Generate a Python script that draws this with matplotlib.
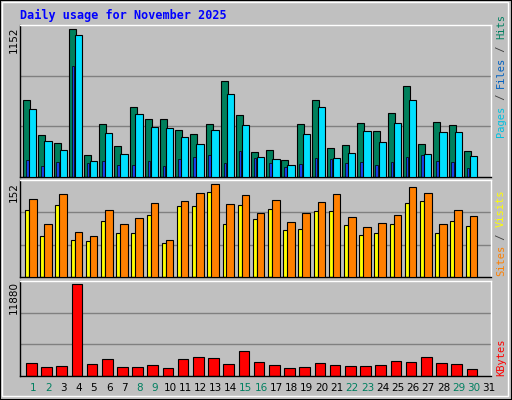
import matplotlib
matplotlib.use("Agg")
import matplotlib.pyplot as plt
import numpy as np

days = list(range(1, 31))
day_labels = [str(d) for d in range(1, 32)]
weekend = {1, 2, 8, 9, 15, 16, 22, 23, 29, 30}
hits = [600,331,269,1152,175,417,245,550,456,456,370,339,417,746,480,198,214,136,417,600,229,253,425,362,503,707,261,433,409,206]
files = [527,284,214,1105,128,347,182,495,394,386,315,261,370,644,409,159,143,96,339,550,151,190,362,276,425,597,182,355,355,167]
pages = [136,89,120,863,112,128,96,96,128,89,143,159,175,112,206,151,112,81,104,151,143,112,120,96,120,159,175,128,120,73]
visits = [127,86,135,74,66,109,86,96,121,61,124,137,152,119,134,104,126,89,104,122,135,97,81,88,101,147,137,86,109,99]
sites = [109,66,117,61,58,92,71,71,101,56,116,116,139,86,117,94,111,76,78,107,107,84,68,71,86,121,124,71,91,83]
kbytes = [1734,1214,1344,11880,1604,2255,1214,1214,1474,1084,2255,2515,2385,1604,3295,1864,1474,1084,1214,1734,1474,1344,1344,1474,1995,1864,2515,1734,1604,954]

W, H = 512, 400
fig = plt.figure(figsize=(W/100, H/100), dpi=100)
fig.patch.set_facecolor('#c0c0c0')
fig.add_artist(plt.Rectangle((0, 0), 1, 1, transform=fig.transFigure, fill=False, ec='black', lw=1.5))
fig.add_artist(plt.Rectangle((2/W, 4/H), 1-6/W, 1-6/H, transform=fig.transFigure, fill=False, ec='white', lw=1))

mono = 'DejaVu Sans Mono'
fig.text(20/W, 1-15/H, 'Daily usage for November 2025', color='#0000ff', fontsize=8.5,
         fontweight='bold', family=mono, va='center')

x = np.array(days)
left, right = 20, 491

def mkax(top, bottom):
    ax = fig.add_axes([left/W, 1-bottom/H, (right-left)/W, (bottom-top)/H])
    ax.set_facecolor('#c0c0c0')
    ax.set_xlim(0.5, 31.5)
    ax.set_xticks([])
    ax.set_yticks([])
    for s in ax.spines.values():
        s.set_color('black'); s.set_linewidth(1)
    ax.spines['right'].set_color('white')
    ax.spines['top'].set_color('white')
    return ax

def grid(ax, ymax):
    for g in (ymax/3, 2*ymax/3):
        ax.axhline(g, color='#808080', lw=1, zorder=0)

ax1 = mkax(25, 177)
ym1 = 1186
ax1.set_ylim(0, ym1); grid(ax1, ym1)
ax1.bar(x-0.06, hits, width=0.46, color='#00805c', ec='black', lw=0.8, zorder=2)
ax1.bar(x+0.34, files, width=0.48, color='#00e0ff', ec='black', lw=0.8, zorder=3)
ax1.bar(x-0.02, pages, width=0.17, color='#1840e8', ec='black', lw=0.5, zorder=2.5)
fig.text(14/W, 1-40/H, '1152', rotation=90, fontsize=7.5, va='center', ha='center')

ax2 = mkax(180, 277)
ym2 = 158
ax2.set_ylim(0, ym2); grid(ax2, ym2)
ax2.bar(x-0.03, sites, width=0.28, color='#ffff00', ec='black', lw=0.8, zorder=2)
ax2.bar(x+0.34, visits, width=0.5, color='#ff8000', ec='black', lw=0.8, zorder=3)
fig.text(14/W, 1-192/H, '152', rotation=90, fontsize=7.5, va='center', ha='center')

ax3 = mkax(281, 376)
ym3 = 12314
ax3.set_ylim(0, ym3); grid(ax3, ym3)
ax3.bar(x+0.24, kbytes, width=0.7, color='#ff0000', ec='black', lw=0.8, zorder=2)
fig.text(14/W, 1-297/H, '11880', rotation=90, fontsize=7.5, va='center', ha='center')

for i, lab in enumerate(day_labels):
    d = i + 1
    px = left + (d - 0.5 + 0.37) * (right-left)/31
    fig.text(px/W, 1-388/H, lab, fontsize=7.5, ha='center', va='center',
             color='#008060' if d in weekend else 'black')

def vlegend(parts, ybottom):
    y = ybottom
    for txt, col in parts:
        fig.text(501/W, 1-y/H, txt, rotation=90, fontsize=7.5, family=mono,
                 color=col, ha='center', va='bottom')
        y -= len(txt) * 6.1
vlegend([('Pages', '#00c0e0'), (' / ', '#404040'), ('Files', '#0060c0'), (' / ', '#404040'), ('Hits', '#008060')], 137)
vlegend([('Sites', '#ff8000'), (' / ', '#404040'), ('Visits', '#ffff00')], 276)
vlegend([('KBytes', '#ff0000')], 376)

fig.savefig('out.png', dpi=100, facecolor=fig.get_facecolor())
